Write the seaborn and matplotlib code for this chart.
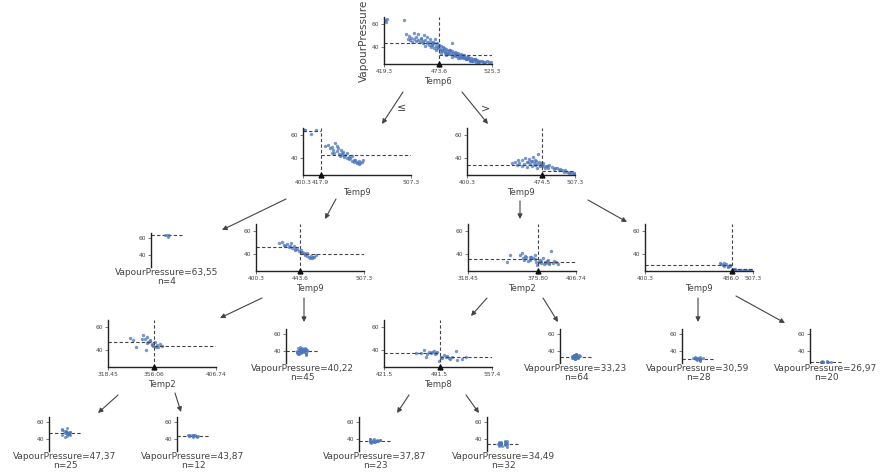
import numpy as np
import pandas as pd
import matplotlib
matplotlib.use("Agg")
import matplotlib.pyplot as plt
import seaborn as sns

sns.set_style("white")
plt.rcParams["font.family"] = ["DejaVu Sans"]
np.random.seed(3)

# ---------------- data ----------------
target_name = "VapourPressure"
y_ticks = [40, 60]
y_limits = (25.5, 66.5)

# leaves: value label, count, observed y values
leaf_value = {"a": 63.55, "b": 40.22, "c": 47.37, "d": 43.87, "e": 33.23,
              "f": 37.87, "g": 34.49, "h": 30.59, "i": 26.97}
leaf_label = {"a": "63,55", "b": "40,22", "c": "47,37", "d": "43,87", "e": "33,23",
              "f": "37,87", "g": "34,49", "h": "30,59", "i": "26,97"}
leaf_n = {"a": 4, "b": 45, "c": 25, "d": 12, "e": 64, "f": 23, "g": 32, "h": 28, "i": 20}
leaf_y = {
    "a": [62.0, 64.0, 64.6, 63.6],
    "b": [35.5, 36, 36.8, 37.2, 37.8, 38, 38.5, 39, 39.2, 39.5, 40, 40.2, 40.5, 40.8, 41,
          41.3, 41.8, 42, 42.5, 43, 43.5, 44, 45, 36.5, 38.8, 39.8, 40.6, 41.5, 42.8, 37.5],
    "c": [42, 43.5, 44.5, 45, 45.8, 46.3, 47, 47.3, 47.8, 48.2, 48.6, 49, 49.5, 50.2, 51,
          52, 53, 46.8, 48, 45.5],
    "d": [42.5, 43, 43.3, 43.7, 44, 44.2, 44.5, 45, 43.9, 44.8, 42.8, 45.3],
    "e": [30.5, 31, 31.5, 32, 32.3, 32.7, 33, 33.2, 33.5, 33.8, 34, 34.3, 34.7, 35, 35.5,
          36, 31.8, 32.5, 33.6, 34.5, 36.5, 30.8, 33.1, 34.9],
    "f": [35, 35.8, 36.3, 36.8, 37.2, 37.6, 38, 38.3, 38.7, 39, 39.4, 39.9, 40.5, 37.9,
          38.5, 36.5],
    "g": [30.5, 31.5, 32.2, 32.8, 33.3, 33.8, 34.2, 34.6, 35, 35.4, 35.9, 36.3, 37, 37.8,
          34, 33.5, 35.2, 36.8, 31.8],
    "h": [28.5, 29, 29.4, 29.8, 30.1, 30.4, 30.7, 31, 31.3, 31.6, 32, 32.5, 33, 30.2,
          30.9, 31.8],
    "i": [26.2, 26.5, 26.7, 26.9, 27.1, 27.3, 27.5, 27.8, 26.4, 27, 27.2],
}

# decision nodes: feature, tick labels (min, split, max), children
node_feature = {"r": "Temp6", "n1": "Temp9", "n2": "Temp9", "n3": "Temp9",
                "n4": "Temp2", "n5": "Temp9", "n6": "Temp2", "n7": "Temp8"}
node_ticks = {"r": ["419.3", "473.6", "525.3"], "n1": ["400.3", "417.9", "507.3"],
              "n2": ["400.3", "474.5", "507.3"], "n3": ["400.3", "443.6", "507.3"],
              "n4": ["318.45", "375.80", "406.74"], "n5": ["400.3", "486.0", "507.3"],
              "n6": ["318.45", "356.06", "406.74"], "n7": ["421.5", "491.5", "557.4"]}
node_children = {"r": ("n1", "n2"), "n1": ("a", "n3"), "n2": ("n4", "n5"),
                 "n3": ("n6", "b"), "n4": ("n7", "e"), "n5": ("h", "i"),
                 "n6": ("c", "d"), "n7": ("f", "g")}

node_x = {
    "r": [420.6, 421.6, 422.2, 438.9, 440.5, 443.8, 442.8, 446, 448.7, 452.6, 455.8, 459, 461.4,
          464, 450.9, 454.2, 457.4, 467.2, 469.7, 445, 449, 451, 447, 453, 456, 458, 460, 462,
          463, 465, 466, 468, 470, 471, 472, 473, 474, 475, 476, 477, 478, 479, 480, 481, 482,
          483, 484, 485, 486.2, 486, 487, 488, 489, 490, 491, 492, 493, 494, 495, 496, 497,
          498, 499, 500, 501, 502, 503, 504, 505, 506, 507, 508, 509, 510, 511, 512, 513, 514,
          516, 518, 520, 522, 524.5, 470, 475, 480, 465, 460, 468, 478, 484, 490, 496, 502,
          476.5, 481.5, 486.5, 491.5, 497.5, 503.5, 508.5, 515, 474.5, 479.5, 483.5, 488.5,
          493.5, 499.5, 505.5, 511.5, 517, 471.5, 466.5, 461.5],
    "n1": [401.3, 402.5, 408.7, 412.7, 422, 425.4, 428.7, 432, 433.7, 435.4, 437.7, 438.8, 440.4,
           442.1, 443.8, 445.4, 447.1, 448.8, 450.5, 452.1, 453.8, 455.5, 457.1, 458.8, 459.8,
           427, 430, 434, 436, 439, 441, 444, 446, 449, 451, 454, 456, 429, 431, 437],
    "n2": [444.7, 448, 450, 452, 451.3, 455, 457, 458, 460, 462, 463, 465, 466.1, 467, 468, 469,
           470, 471.1, 472, 473, 474, 476, 477, 479.3, 481, 482, 484.3, 486, 487, 489.2, 491,
           492, 494.1, 496, 497, 499.1, 501, 502, 504, 506, 507, 455, 460, 465, 470, 461,
           464, 468, 472.5, 475, 478, 480],
    "n3": [422.8, 426.1, 427.8, 431.1, 432.8, 436.1, 437.7, 439.4, 441, 446, 447.7, 449.3, 451,
           452.6, 454.3, 455.9, 457.6, 459.3, 429, 434, 438.5, 442.5, 444.5, 448.5, 450.5,
           453.5, 456.5, 445, 435],
    "n4": [350.0, 352.7, 360.8, 362.2, 363.5, 366.2, 368.9, 371.6, 372.9, 374.3, 377, 378.4,
           379.7, 381.1, 382.4, 383.8, 386.5, 387.8, 390.5, 365, 367.5, 370, 373.5, 375, 376.5,
           378, 380.5, 383, 385, 364, 369.5, 384.5, 388.5, 392],
    "n5": [474.4, 477.7, 481, 484.2, 487.5, 490.8, 495.8, 500.7, 505.6, 476, 479, 482.5, 485,
           489, 493, 498, 503, 478.5, 483],
    "n6": [336.2, 339, 341.7, 347.2, 348.6, 350, 351.4, 352.8, 354.1, 349.3, 354.8, 356.7,
           358.1, 359.5, 360.8, 362.2, 357.5, 355.5, 353, 346, 350.5],
    "n7": [461.8, 468, 472.2, 474.3, 478.4, 480.5, 484.7, 486.7, 488.8, 490.9, 493, 497.1,
           499.2, 503.4, 507.5, 511.7, 513.8, 520, 524.2, 476, 482, 486, 495, 501, 505],
}
node_y = {
    "r": [64.3, 62.0, 64.6, 64.3, 51.4, 50, 47, 48.6, 52.9, 51.4, 48.6, 50.6, 49.4, 47.1, 45.7,
          44.3, 45.7, 44.3, 47.7, 46.5, 47.5, 49, 44.8, 46.8, 47, 44, 46, 44.5, 42.5, 45, 42,
          43.5, 41.5, 44, 40, 42.5, 39, 41, 37.5, 40, 38, 36, 39, 37, 35, 38, 36.5, 34, 43.4,
          37, 35, 33.5, 36, 34, 32.5, 35, 33, 31.5, 34, 32, 30.5, 33, 31, 29.5, 32, 30, 31,
          29, 30.5, 28, 29.5, 28, 30, 27.5, 29, 28, 27, 28.5, 27.5, 27, 28, 27, 27.2, 38, 35,
          33, 40, 41, 39.5, 39.5, 37.5, 35.5, 33.5, 31.5, 36.5, 34.5, 32, 30.5, 31.5, 28.5,
          29.5, 28, 37.5, 35.5, 34.5, 32.5, 31, 29.5, 28.2, 27.3, 26.8, 39.5, 42.5, 43.5],
    "n1": [64.4, 65.0, 61.5, 64.4, 50.9, 51.8, 50.3, 53.2, 50.9, 48.8, 47.4, 44.4, 45.9, 42.9,
           44.4, 41.5, 40, 42.1, 38.5, 38.8, 37.1, 37.9, 36.2, 37.1, 38.5, 49, 47, 46, 44, 43,
           41, 40.5, 39.5, 37.5, 36.8, 36, 35.5, 45, 44.5, 41.8],
    "n2": [35.6, 37.1, 34, 36, 39, 38.5, 35, 40, 37, 39.5, 35.5, 38, 40.9, 36, 34, 38, 35,
           43.8, 37, 33.5, 36, 35.6, 33, 33.2, 31.5, 34, 32.6, 30.5, 32, 31.2, 29.5, 30.5, 29.7,
           28.5, 29.5, 28.2, 27.5, 28.5, 27.4, 27, 26.8, 33, 32.5, 33, 32, 36.5, 37.5, 39, 34.5,
           34.5, 32, 33.5],
    "n3": [49.7, 51.2, 48.2, 49.1, 46.8, 45.3, 47.4, 43.8, 44.4, 42.4, 40.9, 39.4, 41.5, 37.9,
           38.5, 36.5, 37.4, 39.4, 47, 47.5, 45, 43, 41.5, 40, 38.5, 37, 38, 43.5, 50],
    "n4": [33.5, 39.4, 39.4, 40.9, 36.5, 37.9, 35, 36.5, 39.4, 33.5, 35, 32.1, 36.5, 33.5, 32.1,
           35, 42.9, 32.1, 33.5, 38.5, 34, 38, 36, 31, 33.5, 34.5, 31.5, 33.8, 31.5, 35.5,
           37.5, 32.8, 34.5, 32],
    "n5": [32.1, 30.6, 31.2, 29.7, 27.6, 26.8, 26.2, 26.2, 26.2, 31.5, 29.5, 30.2, 31, 27.2,
           26.6, 26.4, 26.3, 32.2, 29],
    "n6": [51, 48.7, 43.1, 53, 50.1, 51.5, 47.3, 49.3, 45.9, 40.3, 44.5, 47.3, 44.5, 43.1, 45.9,
           43.7, 42.8, 44.2, 48, 49.5, 46.5],
    "n7": [38, 37.5, 40.3, 34.6, 38.9, 37.5, 39.7, 37.5, 38.9, 30.4, 34.6, 36.1, 34.6, 33.2,
           34.6, 39.7, 31.8, 32.4, 34.6, 36.5, 38.2, 36.8, 33.5, 35.3, 32.6],
}

# ---------------- layout (pixels) ----------------
W, H = 880, 473
node_box = {"r": (384, 64), "n1": (303, 175), "n2": (467, 175), "n3": (256, 271),
            "n4": (468, 271), "n5": (645, 271), "n6": (108, 367), "n7": (384, 367)}
NODE_W, NODE_H = 108, 47
leaf_box = {"a": (151, 233), "b": (286, 329), "e": (560, 329), "h": (682, 329),
            "i": (810, 329), "c": (49, 417), "d": (177, 417), "f": (359, 417),
            "g": (487, 417)}
LEAF_W, LEAF_H = 32, 34
arrows = [((403, 92), (382, 124)), ((462, 92), (488, 124)),
          ((286, 199), (222, 230)), ((336, 199), (325, 219)),
          ((520, 201), (520, 219)), ((588, 200), (627, 222)),
          ((262, 298), (220, 318)), ((304, 298), (304, 322)),
          ((487, 298), (471, 316)), ((543, 298), (558, 322)),
          ((698, 298), (698, 322)), ((736, 296), (785, 323)),
          ((118, 395), (98, 413)), ((175, 393), (181, 412)),
          ((409, 395), (397, 413)), ((466, 395), (479, 413))]

TXT = "#444443"
BLUE = "#4a74bb"

fig = plt.figure(figsize=(W / 100, H / 100), dpi=100)

# overlay for arrows
ov = fig.add_axes([0, 0, 1, 1], zorder=0)
ov.set_xlim(0, W)
ov.set_ylim(H, 0)
ov.axis("off")
for (x0, y0), (x1, y1) in arrows:
    ov.annotate("", xy=(x1, y1), xytext=(x0, y0),
                arrowprops=dict(arrowstyle="-|>", color=TXT, lw=0.8,
                                mutation_scale=7, shrinkA=0, shrinkB=0))
ov.text(402, 108, "\u2264", fontsize=8, color=TXT, ha="center", va="center")
ov.text(485, 108, ">", fontsize=8, color=TXT, ha="center", va="center")


def subtree_stats(k):
    if k in leaf_value:
        return leaf_value[k] * leaf_n[k], leaf_n[k]
    s1, n1 = subtree_stats(node_children[k][0])
    s2, n2 = subtree_stats(node_children[k][1])
    return s1 + s2, n1 + n2


def mean_of(k):
    s, n = subtree_stats(k)
    return s / n


def px_axes(x, ybot, w, h):
    return fig.add_axes([x / W, (H - ybot) / H, w / W, h / H], zorder=2)


for k, (x, yb) in node_box.items():
    ax = px_axes(x, yb, NODE_W, NODE_H)
    ax.patch.set_alpha(0)
    lo, sp, hi = [float(t) for t in node_ticks[k]]
    sns.scatterplot(x=node_x[k], y=node_y[k], ax=ax, color=BLUE, s=6, alpha=0.75,
                    linewidth=0, legend=False)
    ax.set_xlim(lo, hi)
    ax.set_ylim(*y_limits)
    ml = mean_of(node_children[k][0])
    mr = mean_of(node_children[k][1])
    ax.plot([lo, sp], [ml, ml], ls="--", color=TXT, lw=0.8, dashes=(3, 2))
    ax.plot([sp, hi], [mr, mr], ls="--", color=TXT, lw=0.8, dashes=(3, 2))
    ax.axvline(sp, ls="--", color=TXT, lw=0.8, dashes=(3, 2))
    ax.plot([sp], [y_limits[0]], marker="^", color="#111111", ms=3.5, clip_on=False, zorder=5)
    ax.set_xticks([lo, sp, hi])
    ax.set_xticklabels(node_ticks[k])
    ax.set_yticks(y_ticks)
    ax.tick_params(axis="both", labelsize=4.3, colors=TXT, length=2, width=0.5, pad=1.5,
                   bottom=True, left=True)
    for s in ["top", "right"]:
        ax.spines[s].set_visible(False)
    for s in ["left", "bottom"]:
        ax.spines[s].set_color("#222222")
        ax.spines[s].set_linewidth(1.0)
    ax.set_xlabel(node_feature[k], fontsize=6, color=TXT, labelpad=2)
    if k == "r":
        ax.set_ylabel(target_name, fontsize=7.6, color=TXT, labelpad=2)
    else:
        ax.set_ylabel("")

for k, (x, yt) in leaf_box.items():
    ax = px_axes(x, yt + LEAF_H, LEAF_W, LEAF_H)
    ax.patch.set_alpha(0)
    sns.stripplot(y=leaf_y[k], ax=ax, color=BLUE, size=2.2, alpha=0.75, jitter=0.17,
                  linewidth=0)
    ax.set_xlim(-0.5, 0.5)
    ax.set_ylim(*y_limits)
    ax.axhline(leaf_value[k], ls="--", color=TXT, lw=0.8, dashes=(3, 2))
    ax.set_xticks([])
    ax.set_yticks(y_ticks)
    ax.set_ylabel("")
    ax.set_xlabel("")
    ax.tick_params(axis="y", labelsize=4.3, colors=TXT, length=2, width=0.5, pad=1.5, left=True)
    for s in ["top", "right", "bottom"]:
        ax.spines[s].set_visible(False)
    ax.spines["left"].set_color("#222222")
    ax.spines["left"].set_linewidth(1.0)
    ax.text(0.5, -0.02, f"{target_name}={leaf_label[k]}\nn={leaf_n[k]}",
            transform=ax.transAxes, ha="center", va="top", fontsize=6.5, color=TXT,
            linespacing=1.1)

fig.savefig("out.png", dpi=100)
